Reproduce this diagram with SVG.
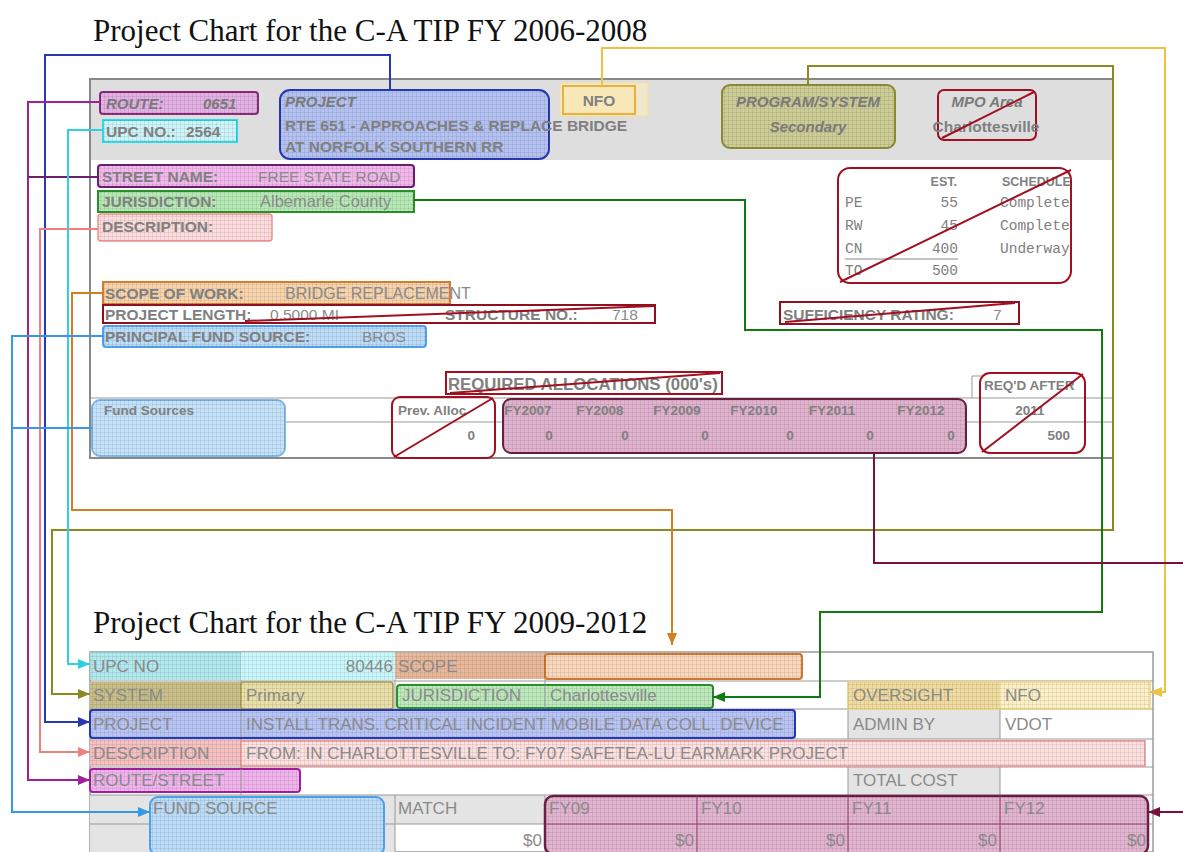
<svg xmlns="http://www.w3.org/2000/svg" width="1183" height="852" viewBox="0 0 1183 852">
<style>
.t{font-family:"Liberation Serif",serif;font-size:31px;fill:#111}
.f{font-family:"Liberation Sans",Arial,sans-serif;font-size:15.5px;font-weight:bold;fill:#808080}
.fi{font-family:"Liberation Sans",Arial,sans-serif;font-size:15px;font-weight:bold;font-style:italic;fill:#7a7a7a}
.fr{font-family:"Liberation Sans",Arial,sans-serif;font-size:15.5px;fill:#8a8a8a}
.m{font-family:"Liberation Mono","Courier New",monospace;font-size:14.5px;fill:#808080}
.s{font-family:"Liberation Sans",Arial,sans-serif;font-size:13.5px;font-weight:bold;fill:#808080}
.b{font-family:"Liberation Sans",Arial,sans-serif;font-size:17px;fill:#8a8a8a}
.gl{stroke:#999;stroke-width:1;fill:none}
.x{stroke:#a01020;stroke-width:2;fill:none}
.c{fill:none;stroke-width:2}
.grid{fill:url(#grid)}
</style>
<defs>
<pattern id="grid" width="4" height="4" patternUnits="userSpaceOnUse"><path d="M0 0.5H4M0.5 0V4" stroke="#000" stroke-opacity="0.07" fill="none"/></pattern>
<marker id="aB" markerUnits="userSpaceOnUse" markerWidth="12" markerHeight="10" refX="12" refY="5" orient="auto"><path d="M0 0L12 5L0 10z" fill="#2838b0"/></marker>
<marker id="aY" markerUnits="userSpaceOnUse" markerWidth="12" markerHeight="10" refX="12" refY="5" orient="auto"><path d="M0 0L12 5L0 10z" fill="#f0c040"/></marker>
<marker id="aO" markerUnits="userSpaceOnUse" markerWidth="12" markerHeight="10" refX="12" refY="5" orient="auto"><path d="M0 0L12 5L0 10z" fill="#8a8a20"/></marker>
<marker id="aM" markerUnits="userSpaceOnUse" markerWidth="12" markerHeight="10" refX="12" refY="5" orient="auto"><path d="M0 0L12 5L0 10z" fill="#a0209a"/></marker>
<marker id="aC" markerUnits="userSpaceOnUse" markerWidth="12" markerHeight="10" refX="12" refY="5" orient="auto"><path d="M0 0L12 5L0 10z" fill="#30d0e0"/></marker>
<marker id="aP" markerUnits="userSpaceOnUse" markerWidth="12" markerHeight="10" refX="12" refY="5" orient="auto"><path d="M0 0L12 5L0 10z" fill="#f08080"/></marker>
<marker id="aR" markerUnits="userSpaceOnUse" markerWidth="12" markerHeight="10" refX="12" refY="5" orient="auto"><path d="M0 0L12 5L0 10z" fill="#d08020"/></marker>
<marker id="aL" markerUnits="userSpaceOnUse" markerWidth="12" markerHeight="10" refX="12" refY="5" orient="auto"><path d="M0 0L12 5L0 10z" fill="#3898e8"/></marker>
<marker id="aG" markerUnits="userSpaceOnUse" markerWidth="12" markerHeight="10" refX="12" refY="5" orient="auto"><path d="M0 0L12 5L0 10z" fill="#107a10"/></marker>
<marker id="aK" markerUnits="userSpaceOnUse" markerWidth="12" markerHeight="10" refX="12" refY="5" orient="auto"><path d="M0 0L12 5L0 10z" fill="#7a1040"/></marker>
</defs>
<rect width="1183" height="852" fill="#fff"/>

<text class="t" x="93" y="41">Project Chart for the C-A TIP FY 2006-2008</text>
<text class="t" x="93" y="633">Project Chart for the C-A TIP FY 2009-2012</text>

<g id="form-top">
<rect x="90" y="79" width="1023" height="379" fill="#fff" stroke="#888" stroke-width="2"/>
<rect x="91" y="80" width="1021" height="80" fill="#dedede"/>
<path class="gl" d="M91 398H1112M91 422H1112M972 398V376H982"/>
</g>

<g id="route">
<rect x="100" y="92" width="158" height="22" rx="3" fill="#e2b0e2" stroke="#8b2a7a" stroke-width="2"/>
<rect x="100" y="92" width="158" height="22" rx="3" class="grid"/>
<text class="fi" x="106" y="109">ROUTE:</text><text class="fi" x="203" y="109">0651</text>
</g>
<g id="upc">
<rect x="103" y="120" width="134" height="22" fill="#cdf4f8" stroke="#30d8e8" stroke-width="2"/>
<rect x="103" y="120" width="134" height="22" class="grid"/>
<text class="f" x="106" y="137">UPC NO.:</text><text class="f" x="186" y="137">2564</text>
</g>
<g id="project">
<rect x="280" y="90" width="269" height="69" rx="10" fill="#b4c2f2" stroke="#2838b0" stroke-width="2"/>
<rect x="280" y="90" width="269" height="69" rx="10" class="grid"/>
<text class="fi" x="285" y="107">PROJECT</text>
<text class="f" x="285" y="131">RTE 651 - APPROACHES &amp; REPLACE BRIDGE</text>
<text class="f" x="285" y="152">AT NORFOLK SOUTHERN RR</text>
</g>
<g id="nfo">
<rect x="560" y="83" width="88" height="33" fill="#fcefc0" fill-opacity="0.6" stroke="#f8e090" stroke-width="1"/>
<rect x="563" y="86" width="72" height="28" fill="#f8e8b8" stroke="#e8b040" stroke-width="2"/>
<text class="f" x="599" y="106" text-anchor="middle">NFO</text>
</g>
<g id="program">
<rect x="722" y="85" width="173" height="63" rx="8" fill="#cccc96" stroke="#8a8a30" stroke-width="2"/>
<rect x="722" y="85" width="173" height="63" rx="8" class="grid"/>
<text class="fi" x="808" y="107" text-anchor="middle">PROGRAM/SYSTEM</text>
<text class="fi" x="808" y="132" text-anchor="middle">Secondary</text>
</g>
<g id="mpo">
<rect x="938" y="90" width="98" height="50" rx="6" fill="none" stroke="#a01020" stroke-width="2"/>
<text class="fi" x="987" y="107" text-anchor="middle">MPO Area</text>
<text class="f" x="986" y="132" text-anchor="middle">Charlottesville</text>
<path class="x" d="M942 138L1034 92"/>
</g>
<g id="schedule">
<rect x="838" y="168" width="233" height="115" rx="12" fill="none" stroke="#a01020" stroke-width="2"/>
<text class="s" x="957" y="186" style="font-size:12.5px" text-anchor="end">EST.</text>
<text class="s" x="1002" y="186" style="font-size:12.5px">SCHEDULE</text>
<text class="m" x="845" y="207">PE</text><text class="m" x="958" y="207" text-anchor="end">55</text><text class="m" x="1000" y="207">Complete</text>
<text class="m" x="845" y="230">RW</text><text class="m" x="958" y="230" text-anchor="end">45</text><text class="m" x="1000" y="230">Complete</text>
<text class="m" x="845" y="253">CN</text><text class="m" x="958" y="253" text-anchor="end">400</text><text class="m" x="1000" y="253">Underway</text>
<path d="M845 259H958" stroke="#888" stroke-width="1"/>
<text class="m" x="845" y="275">TO</text><text class="m" x="958" y="275" text-anchor="end">500</text>
<path class="x" d="M840 282L1071 170"/>
</g>
<g id="street">
<rect x="98" y="165" width="316" height="22" rx="3" fill="#f2b8ec" stroke="#6a2070" stroke-width="2"/>
<rect x="98" y="165" width="316" height="22" rx="3" class="grid"/>
<text class="f" x="102" y="182">STREET NAME:</text><text class="fr" x="258" y="182">FREE STATE ROAD</text>
</g>
<g id="jurisdiction">
<rect x="98" y="191" width="316" height="21" fill="#b6e8b6" stroke="#2a902a" stroke-width="2"/>
<rect x="98" y="191" width="316" height="21" class="grid"/>
<text class="f" x="102" y="207">JURISDICTION:</text><text class="fr" x="260" y="207" style="font-size:16.5px">Albemarle County</text>
</g>
<g id="description">
<rect x="98" y="214" width="174" height="27" rx="3" fill="#fcdcdc" stroke="#f09090" stroke-width="1.5"/>
<rect x="98" y="214" width="174" height="27" rx="3" class="grid"/>
<text class="f" x="102" y="232">DESCRIPTION:</text>
</g>
<g id="scope">
<rect x="103" y="282" width="347" height="22" fill="#f8d4ac" stroke="#d08030" stroke-width="2"/>
<rect x="103" y="282" width="347" height="22" class="grid"/>
<text class="f" x="105" y="299">SCOPE OF WORK:</text><text class="fr" x="285" y="299" style="font-size:16px">BRIDGE REPLACEMENT</text>
</g>
<g id="length">
<rect x="103" y="305" width="552" height="18" fill="none" stroke="#901020" stroke-width="2"/>
<text class="f" x="105" y="320">PROJECT LENGTH:</text><text class="fr" x="270" y="320">0.5000 MI</text>
<text class="f" x="445" y="320">STRUCTURE NO.:</text><text class="fr" x="612" y="320">718</text>
<path class="x" d="M245 321L655 306"/>
</g>
<g id="fundsource">
<rect x="103" y="326" width="323" height="21" rx="3" fill="#bcdcf8" stroke="#50a0f0" stroke-width="2"/>
<rect x="103" y="326" width="323" height="21" rx="3" class="grid"/>
<text class="f" x="105" y="342">PRINCIPAL FUND SOURCE:</text><text class="fr" x="362" y="342">BROS</text>
</g>
<g id="sufficiency">
<rect x="780" y="302" width="239" height="22" fill="none" stroke="#901020" stroke-width="2"/>
<text class="f" x="783" y="320">SUFFICIENCY RATING:</text><text class="fr" x="993" y="320">7</text>
<path class="x" d="M785 322L1015 303"/>
</g>
<g id="required">
<rect x="446" y="372" width="276" height="22" fill="none" stroke="#a01020" stroke-width="2"/>
<text class="f" x="448" y="390" style="font-size:16.8px">REQUIRED ALLOCATIONS (000's)</text>
<path class="x" d="M450 393L720 373"/>
</g>
<g id="fundsources">
<rect x="92" y="400" width="193" height="56" rx="8" fill="#c4e2fa" stroke="#80b8e8" stroke-width="2"/>
<rect x="92" y="400" width="193" height="56" rx="8" class="grid"/>
<text class="s" x="104" y="415">Fund Sources</text>
</g>
<g id="prevalloc">
<rect x="392" y="397" width="103" height="61" rx="8" fill="none" stroke="#a01020" stroke-width="2"/>
<text class="s" x="398" y="415">Prev. Alloc</text>
<text class="s" x="475" y="440" text-anchor="end">0</text>
<path class="x" d="M394 457L493 398"/>
</g>
<g id="fy-top">
<rect x="503" y="399" width="463" height="54" rx="8" fill="#e0b2ce" stroke="#6a2040" stroke-width="2"/>
<rect x="503" y="399" width="463" height="54" rx="8" class="grid"/>
<g class="s" text-anchor="middle">
<text x="528" y="415">FY2007</text><text x="600" y="415">FY2008</text><text x="677" y="415">FY2009</text><text x="754" y="415">FY2010</text><text x="832" y="415">FY2011</text><text x="921" y="415">FY2012</text>
<text x="549" y="440">0</text><text x="625" y="440">0</text><text x="705" y="440">0</text><text x="790" y="440">0</text><text x="870" y="440">0</text><text x="951" y="440">0</text>
</g>
</g>
<g id="reqafter">
<rect x="980" y="373" width="105" height="80" rx="10" fill="none" stroke="#a01020" stroke-width="2"/>
<text class="s" x="984" y="390">REQ'D AFTER</text>
<text class="s" x="1030" y="415" text-anchor="middle">2011</text>
<text class="s" x="1070" y="440" text-anchor="end">500</text>
<path class="x" d="M982 452L1083 374"/>
</g>

<g id="form-bottom">
<rect x="90" y="652" width="1063" height="200" fill="#fff" stroke="#999" stroke-width="1.5"/>
<rect x="90" y="795" width="305" height="57" fill="#e4e4e4"/>
<rect x="395" y="795" width="150" height="29" fill="#e4e4e4"/>
<rect x="848" y="710" width="152" height="29" fill="#e4e4e4"/>
<rect x="848" y="767" width="152" height="28" fill="#e4e4e4"/>
<path class="gl" d="M90 681H1153M90 709H1153M90 739H1153M90 767H1153M90 795H1153M90 824H1153"/>
<path class="gl" d="M241 652V795M395 652V709M545 652V709M848 681V709M1000 681V709M848 709V739M1000 709V739M848 767V795M1000 767V795M395 795V852M545 795V852M697 795V852M848 795V852M1000 795V852"/>
</g>
<g id="b-upc">
<rect x="90" y="652" width="151" height="28" fill="#9ee4ea" fill-opacity="0.8"/>
<rect x="241" y="652" width="154" height="28" fill="#c8f8fc"/>
<rect x="90" y="652" width="305" height="28" class="grid"/>
<text class="b" x="93" y="672">UPC NO</text><text class="b" x="393" y="672" text-anchor="end">80446</text>
</g>
<g id="b-scope">
<rect x="395" y="653" width="150" height="26" fill="#e8b89a"/>
<rect x="545" y="654" width="257" height="25" rx="3" fill="#fad8bc" stroke="#d07830" stroke-width="2"/>
<rect x="395" y="653" width="407" height="26" class="grid"/>
<text class="b" x="398" y="672">SCOPE</text>
</g>
<g id="b-system">
<rect x="90" y="682" width="151" height="27" fill="#c8c088"/>
<rect x="241" y="682" width="152" height="27" rx="3" fill="#e8e0a8" stroke="#a8a050" stroke-width="1.5"/>
<rect x="90" y="682" width="303" height="27" class="grid"/>
<text class="b" x="93" y="701">SYSTEM</text><text class="b" x="246" y="701">Primary</text>
</g>
<g id="b-jurisdiction">
<rect x="397" y="685" width="316" height="23" rx="3" fill="#bce8bc" stroke="#2a902a" stroke-width="2"/>
<rect x="397" y="685" width="316" height="23" class="grid"/>
<path class="gl" d="M545 685V708"/>
<text class="b" x="402" y="701">JURISDICTION</text><text class="b" x="550" y="701">Charlottesville</text>
</g>
<g id="b-oversight">
<rect x="848" y="682" width="152" height="27" fill="#f0dca0"/>
<rect x="1000" y="682" width="150" height="27" fill="#fcf0c4"/>
<rect x="848" y="682" width="302" height="27" fill="none" stroke="#f0d880" stroke-width="1.5"/>
<rect x="848" y="682" width="302" height="27" class="grid"/>
<text class="b" x="853" y="701">OVERSIGHT</text><text class="b" x="1005" y="701">NFO</text>
</g>
<g id="b-project">
<rect x="90" y="710" width="705" height="28" rx="3" fill="#b8c4f4" stroke="#2838b0" stroke-width="2"/>
<rect x="90" y="710" width="705" height="28" class="grid"/>
<path class="gl" d="M241 711V737"/>
<text class="b" x="93" y="730">PROJECT</text>
<text class="b" x="246" y="730">INSTALL TRANS. CRITICAL INCIDENT MOBILE DATA COLL. DEVICE</text>
</g>
<g id="b-admin">
<text class="b" x="853" y="730">ADMIN BY</text><text class="b" x="1005" y="730">VDOT</text>
</g>
<g id="b-description">
<rect x="90" y="740" width="151" height="26" fill="#f4c0c0"/>
<rect x="241" y="741" width="904" height="25" fill="#fde0e0" stroke="#f09090" stroke-width="1.5"/>
<rect x="90" y="740" width="1055" height="26" class="grid"/>
<text class="b" x="93" y="759">DESCRIPTION</text>
<text class="b" x="246" y="759">FROM: IN CHARLOTTESVILLE TO: FY07 SAFETEA-LU EARMARK PROJECT</text>
</g>
<g id="b-route">
<rect x="90" y="769" width="210" height="23" rx="3" fill="#f0b4ec" stroke="#a0209a" stroke-width="2"/>
<rect x="90" y="769" width="210" height="23" class="grid"/>
<path class="gl" d="M241 769V792"/>
<text class="b" x="93" y="786">ROUTE/STREET</text>
</g>
<g id="b-total">
<text class="b" x="853" y="786">TOTAL COST</text>
</g>
<g id="b-fund">
<rect x="150" y="797" width="234" height="58" rx="8" fill="#bcdcf8" stroke="#50a0f0" stroke-width="2"/>
<rect x="150" y="797" width="234" height="58" rx="8" class="grid"/>
<text class="b" x="153" y="814">FUND SOURCE</text>
</g>
<g id="b-match">
<text class="b" x="398" y="814">MATCH</text>
<text class="b" x="542" y="846" text-anchor="end">$0</text>
</g>
<g id="b-fy">
<rect x="545" y="796" width="603" height="58" rx="8" fill="#e2b4d0" stroke="#6a2040" stroke-width="2.5"/>
<rect x="545" y="796" width="603" height="58" rx="8" class="grid"/>
<path d="M697 796V852M848 796V852M1000 796V852M545 824H1148" stroke="#8a4060" stroke-width="1" fill="none"/>
<text class="b" x="549" y="814">FY09</text><text class="b" x="701" y="814">FY10</text><text class="b" x="852" y="814">FY11</text><text class="b" x="1004" y="814">FY12</text>
<text class="b" x="694" y="846" text-anchor="end">$0</text><text class="b" x="845" y="846" text-anchor="end">$0</text><text class="b" x="997" y="846" text-anchor="end">$0</text><text class="b" x="1146" y="846" text-anchor="end">$0</text>
</g>

<g id="connectors">
<path class="c" stroke="#2838b0" d="M390 90V55H45V722H90" marker-end="url(#aB)"/>
<path class="c" stroke="#f0c040" d="M602 86V48H1165V692H1150" marker-end="url(#aY)"/>
<path class="c" stroke="#8a8a20" d="M808 85V66H1113V530H52V694H90" marker-end="url(#aO)"/>
<path class="c" stroke="#a0209a" d="M100 102H28V780H90" marker-end="url(#aM)"/>
<path class="c" stroke="#6a2070" d="M98 177H28"/>
<path class="c" stroke="#30d0e0" d="M103 130H68V664H90" marker-end="url(#aC)"/>
<path class="c" stroke="#f08080" d="M98 229H40V752H90" marker-end="url(#aP)"/>
<path class="c" stroke="#d08020" d="M103 293H72V510H672V645" marker-end="url(#aR)"/>
<path class="c" stroke="#3898e8" d="M103 336H12V812H150" marker-end="url(#aL)"/>
<path class="c" stroke="#3898e8" d="M92 428H12"/>
<path class="c" stroke="#107a10" d="M414 200H745V330H1102V612H820V697H713" marker-end="url(#aG)"/>
<path class="c" stroke="#7a1040" d="M874 453V563H1183"/>
<path class="c" stroke="#7a1040" d="M1183 812H1148" marker-end="url(#aK)"/>
</g>
</svg>
